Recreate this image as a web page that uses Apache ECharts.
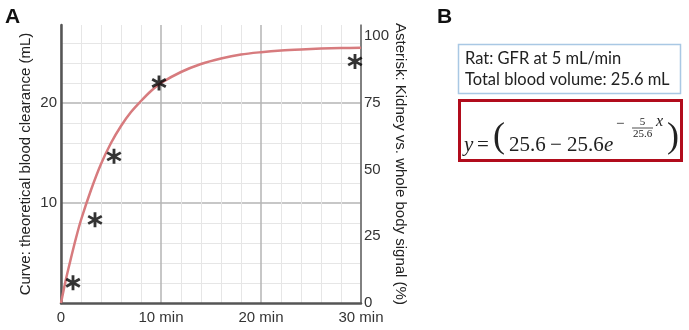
<!DOCTYPE html>
<html>
<head>
<meta charset="utf-8">
<script src="https://cdn.jsdelivr.net/npm/echarts@6/dist/echarts.min.js"></script>
<style>
  html, body { margin: 0; padding: 0; background: #fff; }
  #chart { width: 689px; height: 330px; }
</style>
</head>
<body>
<div id="chart"></div>
<script>
// curve (minutes, mL)
const curveMinutes = [0, 0.5, 1, 1.5, 2, 3, 4, 5, 6, 7, 8, 9, 10, 12, 14, 16, 18, 20, 22, 24, 26, 28, 30];
const curveClearance = [0, 2.4, 4.5, 6.5, 8.3, 11.3, 13.9, 16.0, 17.7, 19.1, 20.2, 21.2, 22.0, 23.1, 23.9, 24.45, 24.85, 25.08, 25.25, 25.36, 25.44, 25.49, 25.53];
// asterisks (minutes, % kidney vs whole body)
const signalMinutes = [1.2, 3.4, 5.3, 9.8, 29.4];
const signalPercent = [7.6, 31.2, 55, 82.5, 90.6];

const infoLines = ['Rat: GFR at 5 mL/min', 'Total blood volume: 25.6 mL'];

const asterisk = 'path://M41 0L59 0L59 100L41 100ZM88.8 17.2L97.8 32.8L11.2 82.8L2.2 67.2ZM97.8 67.2L88.8 82.8L2.2 32.8L11.2 17.2Z';

const axisFont = { fontFamily: 'Liberation Sans', fontSize: 15, color: '#333' };
const serif = 'Liberation Serif';

let chart = echarts.init(document.getElementById('chart'));

let option = {
    animation: false,
    grid: { left: 61, right: 328, top: 25, bottom: 27 },
    xAxis: {
        type: 'value',
        min: 0,
        max: 30,
        interval: 10,
        axisLine: { lineStyle: { color: '#555', width: 2.5 } },
        axisTick: { show: false },
        axisLabel: Object.assign({ margin: 7, formatter: v => v === 0 ? '0' : v + ' min' }, axisFont),
        splitLine: { show: true, lineStyle: { color: '#b4b4b4', width: 1.5 } },
        minorTick: { show: false, splitNumber: 5 },
        minorSplitLine: { show: true, lineStyle: { color: '#e6e6e6', width: 1 } }
    },
    yAxis: [
        {
            type: 'value',
            min: 0,
            max: 27.8,
            interval: 10,
            name: 'Curve: theoretical blood clearance (mL)',
            nameLocation: 'middle',
            nameGap: 28,
            nameTextStyle: { fontFamily: 'Liberation Sans', fontSize: 15, color: '#222' },
            axisLine: { show: true, lineStyle: { color: '#555', width: 2.5 } },
            axisTick: { show: false },
            axisLabel: Object.assign({ margin: 4, showMinLabel: false, showMaxLabel: false }, axisFont),
            splitLine: { show: true, showMinLine: false, showMaxLine: false, lineStyle: { color: '#b4b4b4', width: 1.5 } },
            minorTick: { show: false, splitNumber: 5 },
            minorSplitLine: { show: true, lineStyle: { color: '#e6e6e6', width: 1 } }
        },
        {
            type: 'value',
            position: 'right',
            min: 0,
            max: 104.25,
            interval: 25,
            name: 'Asterisk: Kidney vs. whole body signal (%)',
            nameLocation: 'middle',
            nameRotate: -90,
            nameGap: 27,
            nameTextStyle: { fontFamily: 'Liberation Sans', fontSize: 15, color: '#222' },
            axisLine: { show: true, lineStyle: { color: '#6a6a6a', width: 1.5 } },
            axisTick: { show: false },
            axisLabel: Object.assign({ margin: 3, showMaxLabel: false }, axisFont),
            splitLine: { show: false }
        }
    ],
    series: [
        {
            type: 'line',
            data: curveMinutes.map((m, i) => [m, curveClearance[i]]),
            smooth: 0.3,
            showSymbol: false,
            lineStyle: { color: '#d77b7e', width: 2.5 },
            z: 3
        },
        {
            type: 'scatter',
            yAxisIndex: 1,
            data: signalMinutes.map((m, i) => [m, signalPercent[i]]),
            symbol: asterisk,
            symbolSize: [15, 15],
            itemStyle: { color: '#000' },
            z: 4
        }
    ],
    graphic: [
        { type: 'text', x: 5, y: 7, style: { text: 'A', font: 'bold 21px "Liberation Sans"', fill: '#111' } },
        { type: 'text', x: 437, y: 7, style: { text: 'B', font: 'bold 21px "Liberation Sans"', fill: '#111' } },
        { type: 'rect', shape: { x: 458.5, y: 44.5, width: 222, height: 49 }, style: { fill: 'none', stroke: '#a9c8e4', lineWidth: 1.5 } },
        { type: 'text', x: 465, y: 59, style: { text: infoLines[0], font: '16.5px Lato', fill: '#222', verticalAlign: 'middle' } },
        { type: 'text', x: 465, y: 80, style: { text: infoLines[1], font: '16.5px Lato', fill: '#222', verticalAlign: 'middle' } },
        { type: 'rect', shape: { x: 459.5, y: 100.5, width: 222, height: 60 }, style: { fill: 'none', stroke: '#b10c1c', lineWidth: 3 } },
        // formula
        { type: 'text', x: 464, y: 145, style: { text: 'y', font: 'italic 21px "' + serif + '"', fill: '#222', verticalAlign: 'middle' } },
        { type: 'text', x: 477, y: 145, style: { text: '=', font: '21px "' + serif + '"', fill: '#222', verticalAlign: 'middle' } },
        { type: 'text', x: 493, y: 138, style: { text: '(', font: '36px "' + serif + '"', fill: '#222', verticalAlign: 'middle' } },
        { type: 'text', x: 509, y: 145, style: { text: '25.6', font: '21px "' + serif + '"', fill: '#222', verticalAlign: 'middle' } },
        { type: 'text', x: 550, y: 145, style: { text: '\u2212', font: '21px "' + serif + '"', fill: '#222', verticalAlign: 'middle' } },
        { type: 'text', x: 567, y: 145, style: { text: '25.6', font: '21px "' + serif + '"', fill: '#222', verticalAlign: 'middle' } },
        { type: 'text', x: 604, y: 145, style: { text: 'e', font: 'italic 21px "' + serif + '"', fill: '#222', verticalAlign: 'middle' } },
        { type: 'text', x: 616, y: 124, style: { text: '\u2212', font: '15px "' + serif + '"', fill: '#222', verticalAlign: 'middle' } },
        { type: 'text', x: 642.5, y: 122, style: { text: '5', font: '11px "' + serif + '"', fill: '#222', align: 'center', verticalAlign: 'middle' } },
        { type: 'line', shape: { x1: 632, y1: 128, x2: 653, y2: 128 }, style: { stroke: '#222', lineWidth: 0.8 } },
        { type: 'text', x: 642.5, y: 134, style: { text: '25.6', font: '11px "' + serif + '"', fill: '#222', align: 'center', verticalAlign: 'middle' } },
        { type: 'text', x: 656, y: 122, style: { text: 'x', font: 'italic 16px "' + serif + '"', fill: '#222', verticalAlign: 'middle' } },
        { type: 'text', x: 667, y: 138, style: { text: ')', font: '36px "' + serif + '"', fill: '#222', verticalAlign: 'middle' } }
    ]
};

chart.setOption(option);
</script>
</body>
</html>
